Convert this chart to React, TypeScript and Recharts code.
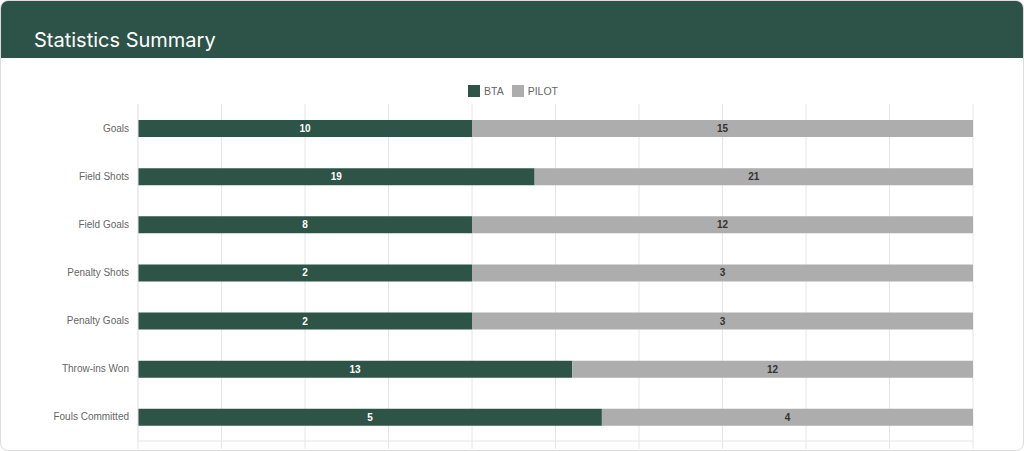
import { BarChart, Bar, XAxis, YAxis, CartesianGrid, LabelList } from 'recharts';

const categories = [
  'Goals',
  'Field Shots',
  'Field Goals',
  'Penalty Shots',
  'Penalty Goals',
  'Throw-ins Won',
  'Fouls Committed',
];
const btaValues = [10, 19, 8, 2, 2, 13, 5];
const pilotValues = [15, 21, 12, 3, 3, 12, 4];
const xTicks = [0, 0.1, 0.2, 0.3, 0.4, 0.5, 0.6, 0.7, 0.8, 0.9, 1];

const BTA_COLOR = '#2e5347';
const PILOT_COLOR = '#adadad';
const GRID = '#e6e6e6';
const FONT = '"Liberation Sans", Arial, Helvetica, sans-serif';

const data = categories.map((name, i) => ({
  name,
  bta: btaValues[i],
  pilot: pilotValues[i],
}));

export default function App() {
  return (
    <div
      style={{
        position: 'absolute',
        left: 0,
        top: 0,
        width: 1022,
        height: 449,
        border: '1px solid #dcdcdc',
        borderRadius: 8,
        overflow: 'hidden',
        background: 'white',
      }}
    >
      <div
        style={{
          height: 57,
          background: '#2d5348',
          color: 'white',
          fontFamily: 'Inter, "Noto Sans", sans-serif',
          fontSize: 20,
          lineHeight: '24px',
          paddingLeft: 33,
          paddingTop: 27,
          boxSizing: 'border-box',
        }}
      >
        Statistics Summary
      </div>

      <div
        style={{
          position: 'absolute',
          top: 84,
          left: 0,
          width: 1022,
          display: 'flex',
          justifyContent: 'center',
          alignItems: 'center',
          gap: 8,
          fontFamily: FONT,
          fontSize: 10.5,
          color: '#666',
          paddingLeft: 2,
          boxSizing: 'border-box',
        }}
      >
        <span style={{ display: 'flex', alignItems: 'center', gap: 4 }}>
          <span style={{ width: 12, height: 12, background: BTA_COLOR, display: 'inline-block' }} />
          BTA
        </span>
        <span style={{ display: 'flex', alignItems: 'center', gap: 4 }}>
          <span style={{ width: 12, height: 12, background: PILOT_COLOR, display: 'inline-block' }} />
          PILOT
        </span>
      </div>

      <div style={{ position: 'absolute', top: 57, left: 0 }}>
        <BarChart
          width={1022}
          height={392}
          data={data}
          layout="vertical"
          stackOffset="expand"
          margin={{ top: 46, right: 50, bottom: 1, left: 0 }}
        >
          <CartesianGrid horizontal={false} stroke={GRID} />
          <XAxis
            type="number"
            domain={[0, 1]}
            ticks={xTicks}
            height={8}
            tickSize={8}
            tickLine={{ stroke: GRID }}
            axisLine={{ stroke: GRID }}
            tick={() => <g />}
          />
          <YAxis
            type="category"
            dataKey="name"
            width={137}
            tickSize={0}
            tickMargin={9}
            axisLine={{ stroke: GRID }}
            tickLine={false}
            tick={{ fill: '#666', fontSize: 10, fontFamily: FONT }}
          />
          <Bar dataKey="bta" stackId="a" fill={BTA_COLOR} barSize={17} isAnimationActive={false}>
            <LabelList
              dataKey="bta"
              position="center"
              fill="#ffffff"
              fontSize={10}
              fontWeight="bold"
              fontFamily={FONT}
            />
          </Bar>
          <Bar dataKey="pilot" stackId="a" fill={PILOT_COLOR} barSize={17} isAnimationActive={false}>
            <LabelList
              dataKey="pilot"
              position="center"
              fill="#333333"
              fontSize={10}
              fontWeight="bold"
              fontFamily={FONT}
            />
          </Bar>
        </BarChart>
      </div>
    </div>
  );
}
